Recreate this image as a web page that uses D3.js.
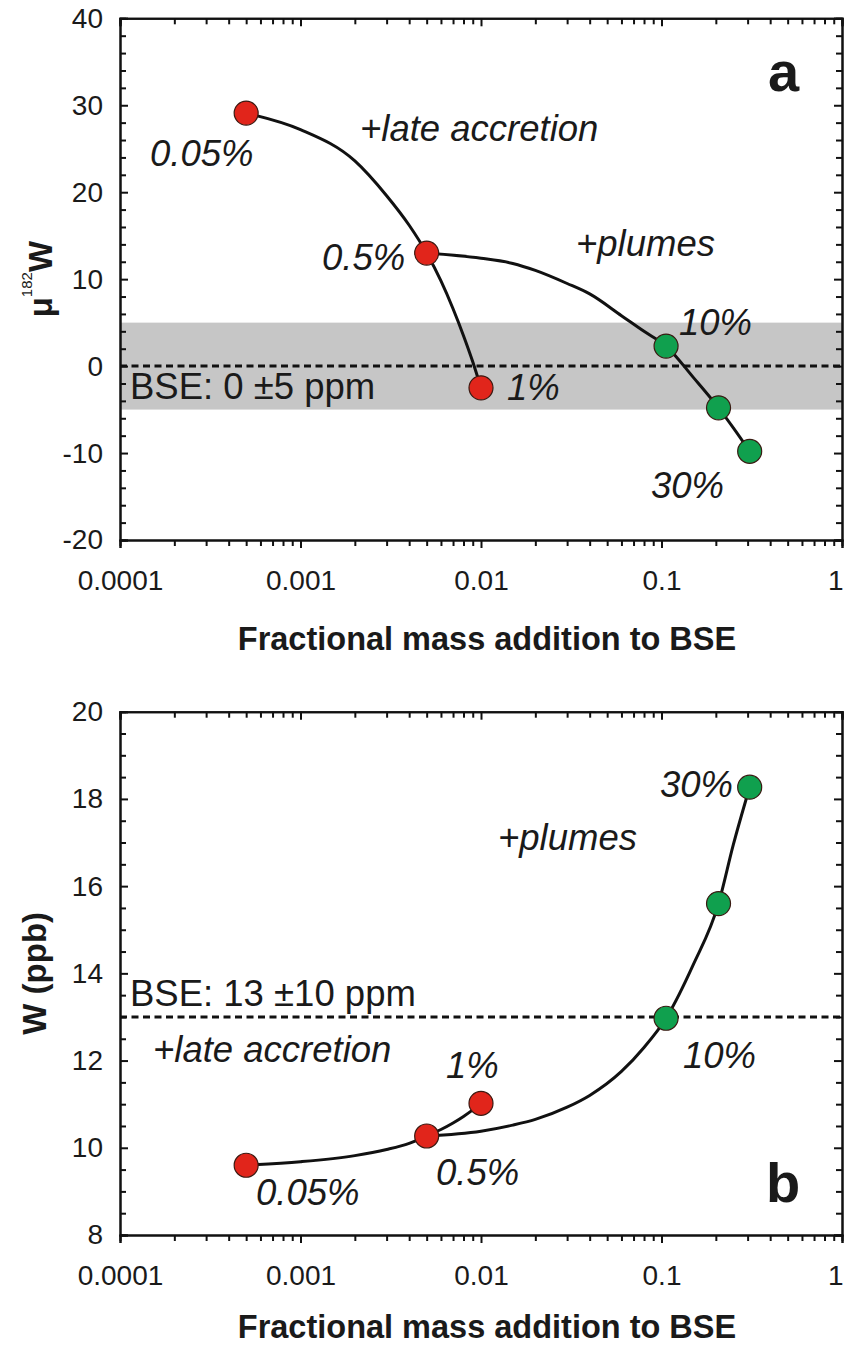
<!DOCTYPE html>
<html>
<head>
<meta charset="utf-8">
<script src="https://cdn.jsdelivr.net/npm/d3@7"></script>
<style>
    body { margin: 0; background: #fff; }
    text { font-family: "Liberation Sans", Arial, sans-serif; fill: #1a1a1a; }
</style>
</head>
<body>
<script>
// Mass fractions (x) shared by both panels
const lateFrac = [0.0005, 0.001, 0.002, 0.003, 0.004, 0.005, 0.006, 0.007, 0.008, 0.009, 0.01];
const plumeFrac = [0.005, 0.01, 0.015, 0.02, 0.03, 0.04, 0.06, 0.08, 0.106, 0.15, 0.207, 0.25, 0.308];

// Panel a: mu182W
const lateMu = [29.1, 27.2, 23.6, 19.6, 16.2, 13.0, 9.8, 6.6, 3.5, 0.5, -2.5];
const plumeMu = [13.0, 12.4, 11.8, 11.0, 9.5, 8.3, 5.8, 4.0, 2.3, -1.3, -4.8, -7.1, -9.8];

// Panel b: W concentration (ppb)
const lateW = [9.6, 9.68, 9.82, 9.96, 10.1, 10.27, 10.42, 10.57, 10.72, 10.87, 11.02];
const plumeW = [10.27, 10.38, 10.52, 10.65, 10.93, 11.2, 11.75, 12.3, 12.97, 14.2, 15.6, 16.95, 18.27];

// Marked points
const redFrac = [0.0005, 0.005, 0.01];
const greenFrac = [0.106, 0.207, 0.308];
const redMu = [29.1, 13.0, -2.5];
const greenMu = [2.3, -4.8, -9.8];
const redW = [9.6, 10.27, 11.02];
const greenW = [12.97, 15.6, 18.27];

const xMajor = [0.0001, 0.001, 0.01, 0.1, 1];
const xMajorLabels = ["0.0001", "0.001", "0.01", "0.1", "1"];

const width = 844, height = 1346;
const svg = d3.select("body").append("svg")
    .attr("width", width)
    .attr("height", height);

const x = d3.scaleLog().domain([1e-4, 1]).range([120, 842]);
const xMinor = x.ticks().filter(v => !xMajor.some(m => Math.abs(m - v) / m < 1e-6));

function drawPanel(cfg) {
    const y = d3.scaleLinear().domain(cfg.yDomain).range([cfg.bottom, cfg.top]);
    const g = svg.append("g");
    const [x0, x1] = x.range();

    // BSE band and reference line
    if (cfg.band) {
        g.append("rect")
            .attr("x", x0)
            .attr("y", y(cfg.band[1]))
            .attr("width", x1 - x0)
            .attr("height", y(cfg.band[0]) - y(cfg.band[1]))
            .attr("fill", "#c6c6c6");
    }
    g.append("line")
        .attr("x1", x0).attr("x2", x1)
        .attr("y1", y(cfg.ref)).attr("y2", y(cfg.ref))
        .attr("stroke", "#111")
        .attr("stroke-width", 3)
        .attr("stroke-dasharray", "7,4.5");

    // mixing curves
    const line = d3.line()
        .x(d => x(d[0]))
        .y(d => y(d[1]))
        .curve(d3.curveMonotoneX);
    [d3.zip(lateFrac, cfg.late), d3.zip(plumeFrac, cfg.plume)].forEach(pts => {
        g.append("path")
            .datum(pts)
            .attr("d", line)
            .attr("fill", "none")
            .attr("stroke", "#111")
            .attr("stroke-width", 3);
    });

    // markers
    const markers = d3.zip(redFrac, cfg.red).map(d => ({ x: d[0], y: d[1], c: "#e1251b" }))
        .concat(d3.zip(greenFrac, cfg.green).map(d => ({ x: d[0], y: d[1], c: "#10a04e" })));
    g.selectAll("circle.pt")
        .data(markers)
        .join("circle")
        .attr("class", "pt")
        .attr("cx", d => x(d.x))
        .attr("cy", d => y(d.y))
        .attr("r", 12)
        .attr("fill", d => d.c)
        .attr("stroke", "#3a1a12")
        .attr("stroke-width", 1.2);

    // annotations
    cfg.notes.forEach(n => {
        g.append("text")
            .attr("x", n.x)
            .attr("y", n.y)
            .attr("font-size", n.size || 36.5)
            .attr("font-style", n.italic === false ? "normal" : "italic")
            .attr("font-weight", n.bold ? "bold" : "normal")
            .text(n.t);
    });

    // axes: bottom ticks outward, the other three inward
    const yMajor = d3.range(cfg.yDomain[0], cfg.yDomain[1] + 1e-9, cfg.yStep);
    const yMinor = d3.range(cfg.yDomain[0], cfg.yDomain[1] + 1e-9, cfg.yStep / cfg.yDiv)
        .filter(v => !yMajor.some(m => Math.abs(m - v) < 1e-9));

    const axisStyle = sel => {
        sel.select(".domain").attr("stroke", "#111").attr("stroke-width", 2);
        sel.selectAll(".tick line").attr("stroke", "#111").attr("stroke-width", 2);
        sel.selectAll(".tick text")
            .attr("font-size", 28)
            .attr("fill", "#1a1a1a")
            .attr("font-family", "'Liberation Sans', Arial, sans-serif");
    };

    g.append("g")
        .attr("transform", `translate(0,${cfg.bottom})`)
        .call(d3.axisBottom(x).tickValues(xMinor).tickSize(6).tickFormat(""))
        .call(axisStyle);
    const bottomMajor = g.append("g")
        .attr("transform", `translate(0,${cfg.bottom})`)
        .call(d3.axisBottom(x).tickValues(xMajor).tickSize(8).tickPadding(22)
            .tickFormat((d, i) => xMajorLabels[i]))
        .call(axisStyle);
    // last label sits on the right edge of the page
    bottomMajor.selectAll(".tick text")
        .filter(d => d === 1)
        .attr("text-anchor", "end")
        .attr("x", 1);
    g.append("g")
        .attr("transform", `translate(0,${cfg.top})`)
        .call(d3.axisTop(x).tickValues(xMinor).tickSize(-6).tickFormat(""))
        .call(axisStyle);
    g.append("g")
        .attr("transform", `translate(0,${cfg.top})`)
        .call(d3.axisTop(x).tickValues(xMajor).tickSize(-8).tickFormat(""))
        .call(axisStyle);

    g.append("g")
        .attr("transform", `translate(${x0},0)`)
        .call(d3.axisLeft(y).tickValues(yMinor).tickSize(-6).tickFormat(""))
        .call(axisStyle);
    g.append("g")
        .attr("transform", `translate(${x0},0)`)
        .call(d3.axisLeft(y).tickValues(yMajor).tickSize(-8).tickPadding(17).tickFormat(d => String(d)))
        .call(axisStyle);
    g.append("g")
        .attr("transform", `translate(${x1},0)`)
        .call(d3.axisRight(y).tickValues(yMinor).tickSize(-6).tickFormat(""))
        .call(axisStyle);
    g.append("g")
        .attr("transform", `translate(${x1},0)`)
        .call(d3.axisRight(y).tickValues(yMajor).tickSize(-8).tickFormat(""))
        .call(axisStyle);

    // axis titles
    g.append("text")
        .attr("x", (x0 + x1) / 2 + 6)
        .attr("y", cfg.xTitleY)
        .attr("text-anchor", "middle")
        .attr("font-size", 32.5)
        .attr("font-weight", "bold")
        .text("Fractional mass addition to BSE");

    const yt = g.append("text")
        .attr("transform", `translate(${cfg.yTitleX},${(cfg.top + cfg.bottom) / 2}) rotate(-90)`)
        .attr("text-anchor", "middle")
        .attr("font-size", 33)
        .attr("font-weight", "bold");
    cfg.yTitle(yt);
}

drawPanel({
    top: 18.3, bottom: 540,
    yDomain: [-20, 40], yStep: 10, yDiv: 5,
    band: [-5, 5], ref: 0,
    late: lateMu, plume: plumeMu, red: redMu, green: greenMu,
    xTitleY: 650, yTitleX: 52,
    yTitle: t => {
        t.append("tspan").text("μ");
        t.append("tspan").attr("font-size", 15).attr("font-weight", "normal").attr("dy", -20).text("182");
        t.append("tspan").attr("dy", 20).text("W");
    },
    notes: [
        { t: "0.05%", x: 150, y: 166 },
        { t: "+late accretion", x: 360, y: 141 },
        { t: "0.5%", x: 322, y: 270 },
        { t: "+plumes", x: 576, y: 256 },
        { t: "10%", x: 679, y: 335 },
        { t: "1%", x: 507, y: 400 },
        { t: "30%", x: 651, y: 498 },
        { t: "BSE: 0 ±5 ppm", x: 130, y: 399, italic: false },
        { t: "a", x: 768, y: 91, size: 56, italic: false, bold: true }
    ]
});

drawPanel({
    top: 711.7, bottom: 1235,
    yDomain: [8, 20], yStep: 2, yDiv: 4,
    band: null, ref: 13,
    late: lateW, plume: plumeW, red: redW, green: greenW,
    xTitleY: 1338, yTitleX: 46,
    yTitle: t => t.text("W (ppb)"),
    notes: [
        { t: "30%", x: 660, y: 797 },
        { t: "+plumes", x: 498, y: 850 },
        { t: "BSE: 13 ±10 ppm", x: 130, y: 1006, italic: false },
        { t: "1%", x: 446, y: 1078 },
        { t: "10%", x: 683, y: 1068 },
        { t: "+late accretion", x: 153, y: 1062 },
        { t: "0.5%", x: 436, y: 1185 },
        { t: "0.05%", x: 256, y: 1205 },
        { t: "b", x: 766, y: 1202, size: 56, italic: false, bold: true }
    ]
});
</script>
</body>
</html>
